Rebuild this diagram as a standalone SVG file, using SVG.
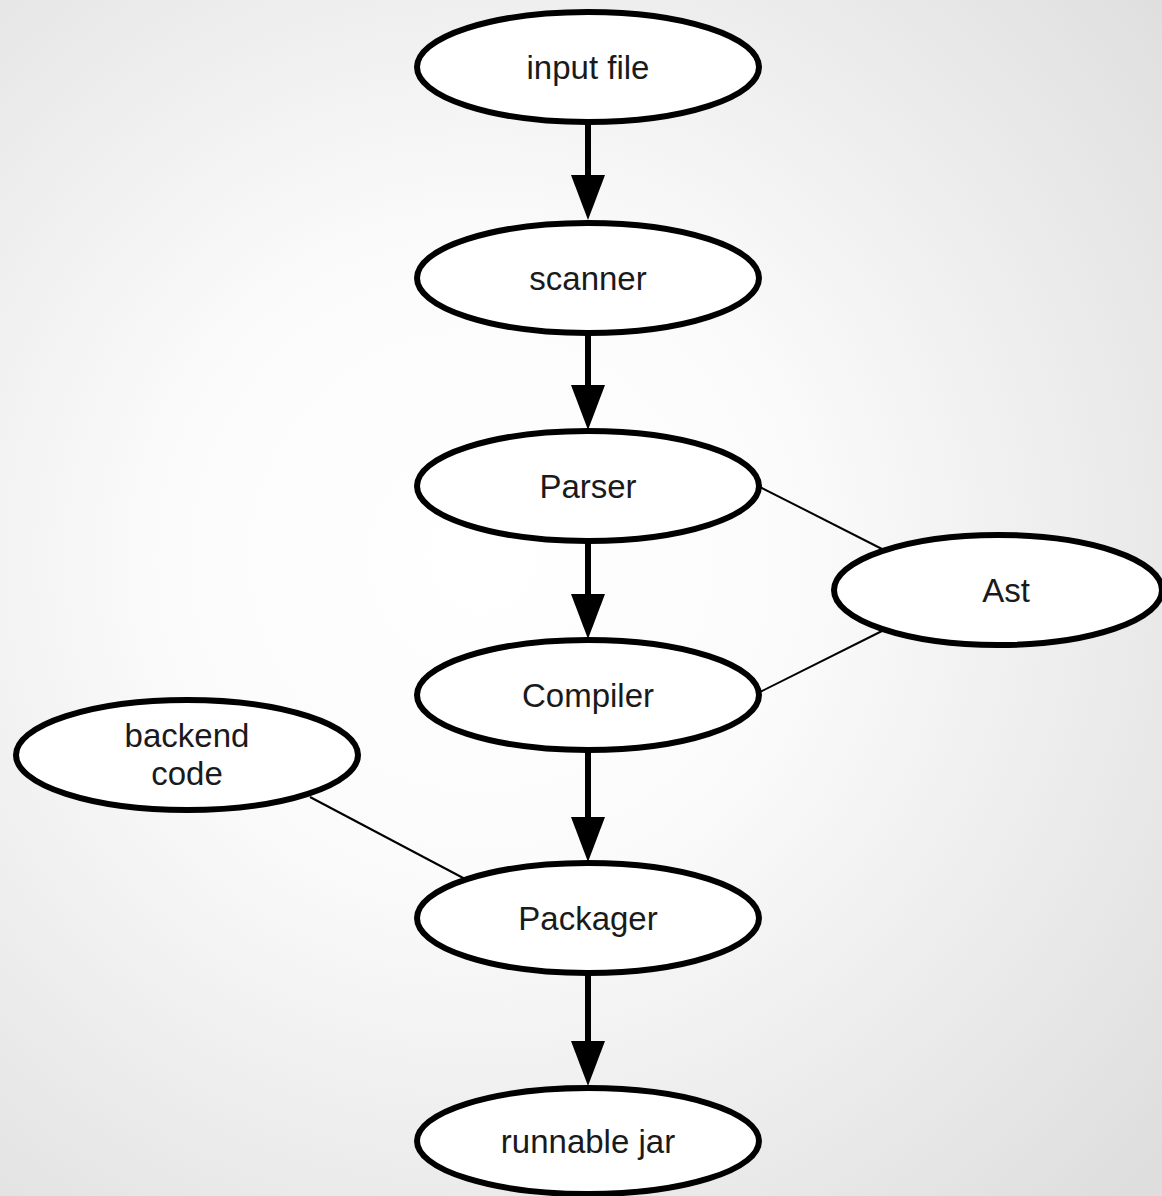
<svg xmlns="http://www.w3.org/2000/svg" width="1162" height="1196" viewBox="0 0 1162 1196">
<defs>
<radialGradient id="bg" cx="480" cy="560" r="900" gradientUnits="userSpaceOnUse">
<stop offset="0" stop-color="#ffffff"/>
<stop offset="0.35" stop-color="#fbfbfb"/>
<stop offset="1" stop-color="#dedede"/>
</radialGradient>
<style>
.node ellipse{fill:#fff;stroke:#000;stroke-width:6}
.node text{font-family:"Liberation Sans",Arial,sans-serif;font-size:33px;fill:#1a1a1a;text-anchor:middle}
.thick{stroke:#000;stroke-width:6;fill:none}
.thin{stroke:#000;stroke-width:2;fill:none}
.head{fill:#000}
</style>
</defs>
<rect width="1162" height="1196" fill="url(#bg)"/>
<g id="connectors">
<line class="thin" x1="760" y1="487" x2="882" y2="549"/>
<line class="thin" x1="760" y1="692" x2="882" y2="631"/>
<line class="thin" x1="310" y1="797" x2="467" y2="880"/>
<path class="thick" d="M588,122 V180"/><path class="head" d="M571,175 L605,175 L588,220 Z"/>
<path class="thick" d="M588,333 V390"/><path class="head" d="M571,385 L605,385 L588,430 Z"/>
<path class="thick" d="M588,541 V600"/><path class="head" d="M571,594 L605,594 L588,639 Z"/>
<path class="thick" d="M588,750 V822"/><path class="head" d="M571,817 L605,817 L588,862 Z"/>
<path class="thick" d="M588,973 V1045"/><path class="head" d="M571,1041 L605,1041 L588,1086 Z"/>
</g>
<g id="input-file" class="node"><ellipse cx="588" cy="67" rx="171" ry="55"/><text x="588" y="79">input file</text></g>
<g id="scanner" class="node"><ellipse cx="588" cy="278" rx="171" ry="55"/><text x="588" y="290">scanner</text></g>
<g id="parser" class="node"><ellipse cx="588" cy="486" rx="171" ry="55"/><text x="588" y="498">Parser</text></g>
<g id="compiler" class="node"><ellipse cx="588" cy="695" rx="171" ry="55"/><text x="588" y="707">Compiler</text></g>
<g id="packager" class="node"><ellipse cx="588" cy="918" rx="171" ry="55"/><text x="588" y="930">Packager</text></g>
<g id="runnable-jar" class="node"><ellipse cx="588" cy="1141" rx="171" ry="53"/><text x="588" y="1153">runnable jar</text></g>
<g id="ast" class="node"><ellipse cx="998" cy="590" rx="164" ry="55"/><text x="1006" y="602">Ast</text></g>
<g id="backend-code" class="node"><ellipse cx="187" cy="755" rx="171" ry="55"/><text x="187" y="747">backend</text><text x="187" y="785">code</text></g>
</svg>
